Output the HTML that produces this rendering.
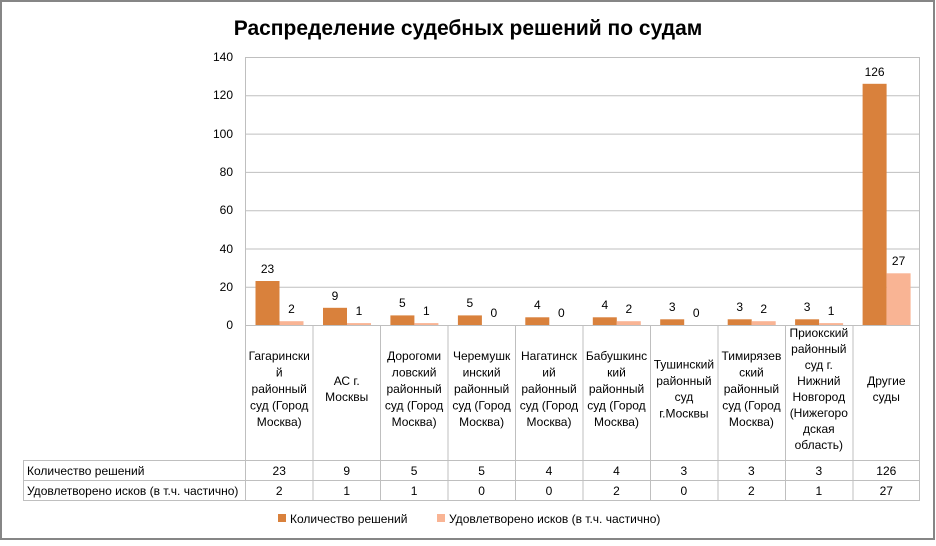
<!DOCTYPE html>
<html><head><meta charset="utf-8"><style>
body{margin:0;background:#fff}
svg text{font-family:"Liberation Sans",sans-serif;fill:#000}
</style></head><body>
<svg width="936" height="541" viewBox="0 0 936 541">
<rect x="1" y="1" width="933" height="538" fill="#fff" stroke="#868686" stroke-width="2"/>
<text x="468" y="35" text-anchor="middle" font-size="21" font-weight="bold">Распределение судебных решений по судам</text>
<g stroke="#bfbfbf" stroke-width="1">
<line x1="245" y1="57.5" x2="920" y2="57.5"/>
<line x1="245" y1="95.8" x2="920" y2="95.8"/>
<line x1="245" y1="134.1" x2="920" y2="134.1"/>
<line x1="245" y1="172.4" x2="920" y2="172.4"/>
<line x1="245" y1="210.7" x2="920" y2="210.7"/>
<line x1="245" y1="249" x2="920" y2="249"/>
<line x1="245" y1="287.3" x2="920" y2="287.3"/>
<line x1="245" y1="325.5" x2="920" y2="325.5"/>
<line x1="245.5" y1="57" x2="245.5" y2="501"/>
<line x1="919.5" y1="57" x2="919.5" y2="501"/>
<line x1="23" y1="460.5" x2="920" y2="460.5"/>
<line x1="23" y1="480.5" x2="920" y2="480.5"/>
<line x1="23" y1="500.5" x2="920" y2="500.5"/>
<line x1="23.5" y1="460" x2="23.5" y2="501"/>
<line x1="313" y1="325" x2="313" y2="501"/><line x1="380.5" y1="325" x2="380.5" y2="501"/><line x1="448" y1="325" x2="448" y2="501"/><line x1="515.5" y1="325" x2="515.5" y2="501"/><line x1="583" y1="325" x2="583" y2="501"/><line x1="650.5" y1="325" x2="650.5" y2="501"/><line x1="718" y1="325" x2="718" y2="501"/><line x1="785.5" y1="325" x2="785.5" y2="501"/><line x1="853" y1="325" x2="853" y2="501"/>
</g>
<g font-size="12" text-anchor="end">
<text x="233" y="61">140</text><text x="233" y="99">120</text><text x="233" y="138">100</text><text x="233" y="176">80</text><text x="233" y="214">60</text><text x="233" y="253">40</text><text x="233" y="291">20</text><text x="233" y="329">0</text>
</g>
<g fill="#D9813C">
<rect x="255.5" y="281" width="24" height="44"/>
<rect x="323" y="307.8" width="24" height="17.2"/>
<rect x="390.4" y="315.4" width="24" height="9.6"/>
<rect x="457.9" y="315.4" width="24" height="9.6"/>
<rect x="525.3" y="317.3" width="24" height="7.7"/>
<rect x="592.8" y="317.3" width="24" height="7.7"/>
<rect x="660.2" y="319.3" width="24" height="5.7"/>
<rect x="727.7" y="319.3" width="24" height="5.7"/>
<rect x="795.1" y="319.3" width="24" height="5.7"/>
<rect x="862.6" y="83.8" width="24" height="241.2"/>
</g>
<g fill="#F9B494">
<rect x="279.5" y="321.2" width="24" height="3.8"/>
<rect x="347" y="323.1" width="24" height="1.9"/>
<rect x="414.4" y="323.1" width="24" height="1.9"/>
<rect x="616.8" y="321.2" width="24" height="3.8"/>
<rect x="751.7" y="321.2" width="24" height="3.8"/>
<rect x="819.1" y="323.1" width="24" height="1.9"/>
<rect x="886.6" y="273.3" width="24" height="51.7"/>
</g>
<g font-size="12" text-anchor="middle">
<text x="267.5" y="273">23</text><text x="291.5" y="313">2</text>
<text x="335" y="300">9</text><text x="359" y="315">1</text>
<text x="402.4" y="307">5</text><text x="426.4" y="315">1</text>
<text x="469.9" y="307">5</text><text x="493.9" y="317">0</text>
<text x="537.3" y="309">4</text><text x="561.3" y="317">0</text>
<text x="604.8" y="309">4</text><text x="628.8" y="313">2</text>
<text x="672.2" y="311">3</text><text x="696.2" y="317">0</text>
<text x="739.7" y="311">3</text><text x="763.7" y="313">2</text>
<text x="807.1" y="311">3</text><text x="831.1" y="315">1</text>
<text x="874.6" y="76">126</text><text x="898.6" y="265">27</text>
</g>
<g font-size="12" text-anchor="middle">
<text x="279.2" y="360.2">Гагарински</text><text x="279.2" y="376.6">й</text><text x="279.2" y="393">районный</text><text x="279.2" y="409.4">суд (Город</text><text x="279.2" y="425.8">Москва)</text>
<text x="346.7" y="384.8">АС г.</text><text x="346.7" y="401.2">Москвы</text>
<text x="414.1" y="360.2">Дорогоми</text><text x="414.1" y="376.6">ловский</text><text x="414.1" y="393">районный</text><text x="414.1" y="409.4">суд (Город</text><text x="414.1" y="425.8">Москва)</text>
<text x="481.6" y="360.2">Черемушк</text><text x="481.6" y="376.6">инский</text><text x="481.6" y="393">районный</text><text x="481.6" y="409.4">суд (Город</text><text x="481.6" y="425.8">Москва)</text>
<text x="549" y="360.2">Нагатинск</text><text x="549" y="376.6">ий</text><text x="549" y="393">районный</text><text x="549" y="409.4">суд (Город</text><text x="549" y="425.8">Москва)</text>
<text x="616.5" y="360.2">Бабушкинс</text><text x="616.5" y="376.6">кий</text><text x="616.5" y="393">районный</text><text x="616.5" y="409.4">суд (Город</text><text x="616.5" y="425.8">Москва)</text>
<text x="683.9" y="368.4">Тушинский</text><text x="683.9" y="384.8">районный</text><text x="683.9" y="401.2">суд</text><text x="683.9" y="417.6">г.Москвы</text>
<text x="751.4" y="360.2">Тимирязев</text><text x="751.4" y="376.6">ский</text><text x="751.4" y="393">районный</text><text x="751.4" y="409.4">суд (Город</text><text x="751.4" y="425.8">Москва)</text>
<text x="818.8" y="337">Приокский</text><text x="818.8" y="353">районный</text><text x="818.8" y="369">суд г.</text><text x="818.8" y="385">Нижний</text><text x="818.8" y="401">Новгород</text><text x="818.8" y="417">(Нижегоро</text><text x="818.8" y="433">дская</text><text x="818.8" y="449">область)</text>
<text x="886.3" y="384.8">Другие</text><text x="886.3" y="401.2">суды</text>
</g>
<g font-size="12">
<text x="27" y="475">Количество решений</text>
<text x="27" y="495">Удовлетворено исков (в т.ч. частично)</text>
</g>
<g font-size="12" text-anchor="middle">
<text x="279.2" y="475">23</text><text x="346.7" y="475">9</text><text x="414.1" y="475">5</text><text x="481.6" y="475">5</text><text x="549" y="475">4</text><text x="616.5" y="475">4</text><text x="683.9" y="475">3</text><text x="751.4" y="475">3</text><text x="818.8" y="475">3</text><text x="886.3" y="475">126</text>
<text x="279.2" y="495">2</text><text x="346.7" y="495">1</text><text x="414.1" y="495">1</text><text x="481.6" y="495">0</text><text x="549" y="495">0</text><text x="616.5" y="495">2</text><text x="683.9" y="495">0</text><text x="751.4" y="495">2</text><text x="818.8" y="495">1</text><text x="886.3" y="495">27</text>
</g>
<rect x="278" y="514" width="8" height="8" fill="#D9813C"/>
<text x="290" y="523" font-size="12">Количество решений</text>
<rect x="437" y="514" width="8" height="8" fill="#F9B494"/>
<text x="449" y="523" font-size="12">Удовлетворено исков (в т.ч. частично)</text>
</svg>
</body></html>
